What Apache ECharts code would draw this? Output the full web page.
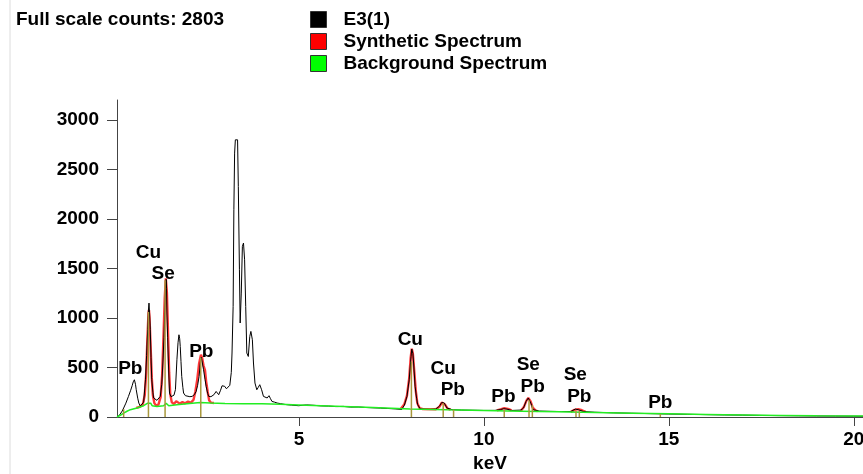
<!DOCTYPE html>
<html>
<head>
<meta charset="utf-8">
<script src="https://cdn.jsdelivr.net/npm/echarts@6/dist/echarts.min.js"></script>
<style>
  html, body { margin: 0; padding: 0; background: #fff; }
  #chart { width: 863px; height: 474px; }
</style>
</head>
<body>
<div id="chart"></div>
<script>
// values (keV, counts)
const xTicks = [5, 10, 15, 20]
const yTicks = [0, 500, 1000, 1500, 2000, 2500, 3000]

const measured = [
  [0.08, 0], [0.15, 20], [0.22, 60], [0.26, 91], [0.32, 140], [0.39, 208], [0.45, 270], [0.49, 316],
  [0.52, 355], [0.55, 376], [0.58, 330], [0.6, 276], [0.64, 190], [0.67, 141], [0.71, 110], [0.76, 91],
  [0.8, 150], [0.85, 376], [0.88, 620], [0.91, 881], [0.93, 1080], [0.945, 1150], [0.96, 1050], [0.98, 881],
  [1.0, 600], [1.02, 376], [1.05, 250], [1.07, 192], [1.12, 172], [1.16, 168], [1.21, 185], [1.25, 208],
  [1.29, 330], [1.32, 545], [1.35, 800], [1.37, 1050], [1.395, 1285], [1.41, 1390], [1.42, 1300], [1.43, 1050],
  [1.45, 800], [1.47, 545], [1.5, 242], [1.54, 205], [1.57, 192], [1.62, 220], [1.66, 276], [1.7, 578],
  [1.73, 750], [1.755, 830], [1.775, 790], [1.79, 712], [1.81, 560], [1.83, 410], [1.86, 300], [1.88, 242],
  [1.93, 215], [1.97, 208], [2.05, 205], [2.11, 208], [2.17, 225], [2.22, 258], [2.26, 320], [2.3, 410],
  [2.34, 578], [2.36, 605], [2.38, 590], [2.42, 477], [2.46, 380], [2.49, 309], [2.53, 240], [2.56, 208],
  [2.62, 205], [2.65, 208], [2.7, 225], [2.76, 258], [2.8, 240], [2.83, 225], [2.88, 270], [2.92, 315],
  [2.95, 326], [2.99, 310], [3.04, 285], [3.09, 275], [3.13, 320], [3.17, 450], [3.19, 646], [3.22, 1116],
  [3.24, 2092], [3.26, 2664], [3.28, 2798], [3.31, 2803], [3.34, 2798], [3.36, 2327], [3.39, 1486], [3.41, 949],
  [3.44, 1251], [3.47, 1722], [3.5, 1756], [3.53, 1587], [3.56, 1116], [3.59, 646], [3.63, 611], [3.67, 813],
  [3.7, 864], [3.74, 780], [3.77, 545], [3.81, 343], [3.86, 275], [3.9, 300], [3.94, 326], [3.99, 275],
  [4.04, 208], [4.09, 200], [4.14, 192], [4.19, 215], [4.23, 185], [4.27, 157], [4.34, 150], [4.41, 141],
  [4.5, 135], [4.6, 128], [4.68, 124], [4.8, 120], [4.99, 114], [5.2, 122], [5.4, 118], [5.6, 112],
  [5.8, 110], [6.0, 105], [6.2, 107], [6.4, 100], [6.6, 101], [6.8, 96], [7.0, 93], [7.2, 90],
  [7.4, 86], [7.6, 82], [7.78, 76], [7.85, 120], [7.92, 208], [7.98, 376], [8.03, 611], [8.05, 686],
  [8.08, 640], [8.1, 545], [8.14, 309], [8.18, 190], [8.21, 124], [8.28, 81], [8.4, 78], [8.55, 76],
  [8.7, 80], [8.8, 110], [8.86, 147], [8.9, 150], [8.93, 141], [9.0, 91], [9.14, 74], [9.4, 70],
  [9.7, 68], [10.0, 66], [10.3, 67], [10.45, 75], [10.53, 84], [10.62, 80], [10.75, 66], [11.0, 70],
  [11.07, 91], [11.14, 157], [11.2, 192], [11.27, 141], [11.33, 74], [11.5, 60], [11.8, 57], [12.1, 55],
  [12.35, 55], [12.47, 80], [12.55, 74], [12.7, 55], [13.0, 48], [13.5, 42], [14.0, 38], [14.5, 34],
  [15.0, 30], [15.5, 27], [16.0, 24], [16.5, 21], [17.0, 19], [17.5, 16], [18.0, 14], [18.5, 12],
  [19.0, 10], [19.5, 9], [20.0, 8], [20.25, 7]
]

const synthetic = [
  [0.6, 92], [0.7, 102], [0.78, 130], [0.83, 220], [0.87, 450], [0.9, 780], [0.93, 1040], [0.945, 1080],
  [0.96, 1000], [0.99, 700], [1.02, 400], [1.05, 220], [1.09, 140], [1.14, 115], [1.2, 125], [1.26, 200],
  [1.3, 420], [1.34, 850], [1.37, 1200], [1.4, 1400], [1.41, 1403], [1.43, 1250], [1.46, 850], [1.49, 450],
  [1.52, 230], [1.56, 150], [1.62, 130], [1.68, 160], [1.72, 150], [1.78, 135], [1.85, 150], [1.92, 138],
  [2.0, 155], [2.08, 145], [2.15, 175], [2.2, 260], [2.25, 380], [2.3, 540], [2.35, 629], [2.38, 600],
  [2.42, 520], [2.46, 470], [2.49, 360], [2.53, 260], [2.57, 170], [2.62, 145], [2.7, 142],
  null,
  [7.75, 80], [7.85, 130], [7.92, 215], [7.98, 390], [8.02, 600], [8.05, 690], [8.08, 640], [8.12, 450],
  [8.16, 260], [8.2, 140], [8.26, 90], [8.35, 80], [8.7, 78], [8.8, 105], [8.86, 145], [8.9, 148],
  [8.95, 125], [9.02, 85], [9.1, 75],
  null,
  [10.35, 66], [10.45, 78], [10.55, 90], [10.65, 82], [10.75, 66],
  null,
  [11.0, 62], [11.08, 100], [11.15, 165], [11.2, 192], [11.26, 160], [11.32, 95], [11.4, 65], [11.45, 60],
  null,
  [12.35, 52], [12.45, 72], [12.55, 80], [12.65, 68], [12.75, 52]
]

const background = [
  [0.08, 0], [0.18, 20], [0.26, 40], [0.35, 58], [0.44, 74], [0.62, 91], [0.8, 114], [0.91, 140],
  [0.95, 155], [0.99, 140], [1.03, 114], [1.16, 107], [1.34, 114], [1.41, 138], [1.48, 114], [1.7, 124],
  [1.97, 134], [2.33, 147], [2.6, 141], [3.0, 137], [3.5, 135], [4.0, 133], [4.5, 128], [5.0, 122],
  [6.0, 108], [7.0, 95], [8.0, 82], [9.0, 73], [10.0, 66], [11.0, 59], [12.0, 52], [13.0, 46],
  [14.0, 39], [15.0, 32], [16.0, 26], [17.0, 21], [18.0, 16], [19.0, 12], [20.25, 9]
]

// element line markers: energy, height
const markerLines = [
  [0.26, 80], [0.93, 1060], [1.38, 1380], [2.345, 600], [8.04, 560], [8.9, 140], [9.18, 75],
  [10.55, 74], [11.22, 170], [11.31, 120], [12.49, 60], [12.58, 60], [14.77, 30]
]

const peakLabels = [
  [0.44, 487, 'Pb'], [0.93, 1659, 'Cu'], [1.33, 1446, 'Se'], [2.36, 659, 'Pb'],
  [8.01, 780, 'Cu'], [8.9, 487, 'Cu'], [9.16, 270, 'Pb'], [10.53, 202, 'Pb'],
  [11.2, 528, 'Se'], [11.32, 310, 'Pb'], [12.47, 427, 'Se'], [12.58, 202, 'Pb'],
  [14.77, 146, 'Pb']
]

const FONT = '"Liberation Sans", Arial, sans-serif'
const chart = echarts.init(document.getElementById('chart'))

chart.setOption({
  animation: false,
  backgroundColor: '#fff',
  title: {
    text: 'Full scale counts: 2803',
    left: 11,
    top: 5,
    textStyle: { fontSize: 19, fontWeight: 'bold', color: '#000', fontFamily: FONT }
  },
  legend: {
    data: ['E3(1)', 'Synthetic Spectrum', 'Background Spectrum'],
    orient: 'vertical',
    left: 305,
    top: 5,
    icon: 'rect',
    itemWidth: 16,
    itemHeight: 16,
    itemGap: 3,
    itemStyle: { borderColor: '#333', borderWidth: 1 },
    textStyle: { fontSize: 19, fontWeight: 'bold', color: '#000', fontFamily: FONT, padding: [0, 0, 0, 12] }
  },
  graphic: [
    { type: 'line', shape: { x1: 10, y1: 0, x2: 10, y2: 474 }, style: { stroke: '#dcdcdc', lineWidth: 1 } }
  ],
  grid: { left: 117, top: 100, right: 0, bottom: 57, outerBoundsMode: 'none' },
  xAxis: {
    type: 'value',
    min: 0.08,
    max: 20.25,
    name: 'keV',
    nameLocation: 'middle',
    nameGap: 36,
    nameTextStyle: { fontSize: 19, fontWeight: 'bold', color: '#000', fontFamily: FONT },
    axisLine: { lineStyle: { color: '#444', width: 1 } },
    axisTick: { show: true, length: 9, customValues: xTicks, lineStyle: { color: '#444' } },
    axisLabel: {
      customValues: xTicks, margin: 13, fontSize: 19, fontWeight: 'bold', color: '#000', fontFamily: FONT,
      formatter: (v) => String(v)
    },
    splitLine: { show: false }
  },
  yAxis: {
    type: 'value',
    min: 0,
    max: 3200,
    axisLine: { show: true, lineStyle: { color: '#444', width: 1 } },
    axisTick: { show: true, length: 10, customValues: yTicks, lineStyle: { color: '#444' } },
    axisLabel: {
      customValues: yTicks, margin: 18, fontSize: 19, fontWeight: 'bold', color: '#000', fontFamily: FONT,
      formatter: (v) => String(v)
    },
    splitLine: { show: false }
  },
  series: [
    {
      name: 'Synthetic Spectrum',
      type: 'line',
      data: synthetic,
      showSymbol: false,
      connectNulls: false,
      z: 2,
      itemStyle: { color: '#ff0000' },
      lineStyle: { color: 'rgba(255, 20, 20, 0.85)', width: 2.4 }
    },
    {
      name: 'E3(1)',
      type: 'line',
      data: measured,
      showSymbol: false,
      z: 3,
      itemStyle: { color: '#000' },
      lineStyle: { color: '#000', width: 1 }
    },
    {
      name: 'Background Spectrum',
      type: 'line',
      data: background,
      showSymbol: false,
      z: 4,
      itemStyle: { color: '#00ff00' },
      lineStyle: { color: '#22ee22', width: 1.5 }
    },
    {
      type: 'custom',
      data: markerLines,
      z: 5,
      renderItem: (params, api) => {
        const p0 = api.coord([api.value(0), 0])
        const p1 = api.coord([api.value(0), api.value(1)])
        return {
          type: 'line',
          shape: { x1: p0[0], y1: p0[1], x2: p1[0], y2: p1[1] },
          style: { stroke: '#a8983c', lineWidth: 1.5 }
        }
      }
    },
    {
      type: 'scatter',
      data: peakLabels,
      symbolSize: 1,
      z: 6,
      itemStyle: { color: 'rgba(0,0,0,0)', opacity: 1 },
      label: {
        show: true,
        position: 'inside',
        formatter: (p) => p.value[2],
        fontSize: 19,
        fontWeight: 'bold',
        color: '#000',
        opacity: 1,
        textBorderWidth: 0,
        fontFamily: FONT
      }
    }
  ]
})
</script>
</body>
</html>
